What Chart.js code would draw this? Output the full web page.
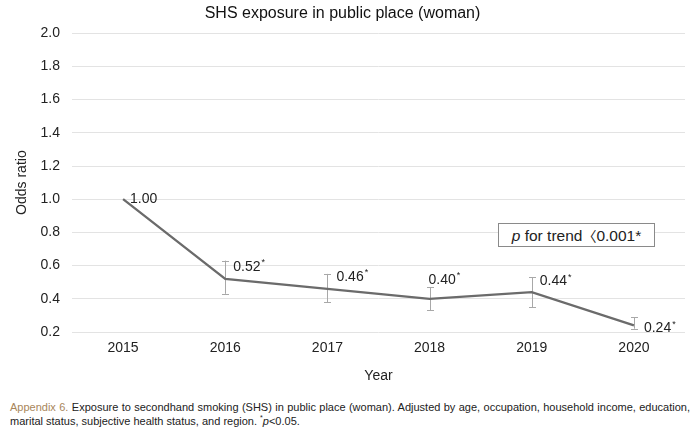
<!DOCTYPE html>
<html>
<head>
<meta charset="utf-8">
<script src="https://cdn.jsdelivr.net/npm/chart.js@4"></script>
<style>
  body { margin: 0; background: #fff; width: 697px; height: 436px; position: relative; overflow: hidden; }
  #wrap { position: absolute; left: 0; top: 0; width: 697px; height: 392px; }
  #trendBox {
    position: absolute; left: 498px; top: 223px; width: 155px; height: 22px;
    border: 1px solid #8a8a8a; background: #fff;
    font: 15.5px "Liberation Sans", Arial, sans-serif; color: #222;
    text-align: center; line-height: 22px; white-space: nowrap;
  }
  .br { font-family: "Noto Sans CJK KR", sans-serif; font-size: 14px; }
  .caption {
    position: absolute; left: 10px; width: 680px;
    font: 11px "Liberation Sans", Arial, sans-serif; color: #222; white-space: nowrap;
  }
  #cap1 { top: 401px; text-align: justify; text-align-last: justify; white-space: normal; }
  #cap2 { top: 414px; }
  .tag { color: #a8865a; }
</style>
</head>
<body>
<div id="wrap"><canvas id="oddsChart"></canvas></div>
<div id="trendBox"><i>p</i> for trend<span class="br">〈</span>0.001*</div>
<div class="caption" id="cap1"><span class="tag">Appendix 6.</span> Exposure to secondhand smoking (SHS) in public place (woman). Adjusted by age, occupation, household income, education,</div>
<div class="caption" id="cap2">marital status, subjective health status, and region. <sup style="font-size:7px">*</sup><i>p</i>&lt;0.05.</div>

<script>
const years = ['2015', '2016', '2017', '2018', '2019', '2020'];
const oddsRatio = [1.00, 0.52, 0.46, 0.40, 0.44, 0.24];
const ciLower = [null, 0.43, 0.38, 0.33, 0.35, 0.22];
const ciUpper = [null, 0.63, 0.55, 0.47, 0.53, 0.29];
const significant = [false, true, true, true, true, true];
const yTicks = [0.2, 0.4, 0.6, 0.8, 1.0, 1.2, 1.4, 1.6, 1.8, 2.0];

// label nudges in px (dx to text start, dy to text middle) relative to each point
const labelShift = [[7, 0], [8, -12], [9, -12], [-1, -19], [8, -11], [10, 3]];

const FONT = '"Liberation Sans", Arial, sans-serif';

const errorBars = {
    id: 'errorBars',
    beforeDatasetsDraw(chart) {
        const { ctx, scales: { x, y } } = chart;
        ctx.save();
        ctx.strokeStyle = '#a8a8a8';
        ctx.lineWidth = 1;
        years.forEach((yr, i) => {
            if (ciLower[i] == null) return;
            const px = Math.round(x.getPixelForValue(i)) + 0.5;
            const top = y.getPixelForValue(ciUpper[i]);
            const bot = y.getPixelForValue(ciLower[i]);
            ctx.beginPath();
            ctx.moveTo(px, top); ctx.lineTo(px, bot);
            ctx.moveTo(px - 3.5, Math.round(top) + 0.5); ctx.lineTo(px + 3.5, Math.round(top) + 0.5);
            ctx.moveTo(px - 3.5, Math.round(bot) + 0.5); ctx.lineTo(px + 3.5, Math.round(bot) + 0.5);
            ctx.stroke();
        });
        ctx.restore();
    }
};

const valueLabels = {
    id: 'valueLabels',
    afterDatasetsDraw(chart) {
        const { ctx } = chart;
        const pts = chart.getDatasetMeta(0).data;
        ctx.save();
        ctx.fillStyle = '#222';
        ctx.textBaseline = 'middle';
        ctx.textAlign = 'left';
        pts.forEach((pt, i) => {
            const txt = oddsRatio[i].toFixed(2);
            const tx = pt.x + labelShift[i][0];
            const ty = pt.y + labelShift[i][1];
            ctx.font = '14px ' + FONT;
            ctx.fillText(txt, tx, ty);
            if (significant[i]) {
                const w = ctx.measureText(txt).width;
                ctx.font = '9px ' + FONT;
                ctx.fillText('*', tx + w + 1, ty - 4);
            }
        });
        ctx.restore();
    }
};

const ctx = document.getElementById('oddsChart').getContext('2d');
const chart = new Chart(ctx, {
    type: 'line',
    data: {
        labels: years,
        datasets: [{
            label: 'Odds ratio',
            data: oddsRatio,
            borderColor: '#6b6b6b',
            borderWidth: 2.3,
            pointRadius: 0,
            tension: 0
        }]
    },
    options: {
        responsive: true,
        maintainAspectRatio: false,
        animation: false,
        layout: { padding: { left: 0, right: 12, top: 0, bottom: 0 } },
        plugins: {
            legend: { display: false },
            tooltip: { enabled: false },
            title: {
                display: true,
                text: 'SHS exposure in public place (woman)',
                color: '#111',
                font: { family: FONT, size: 16, weight: 'normal' },
                padding: { top: 4, bottom: 10 }
            }
        },
        scales: {
            x: {
                offset: true,
                grid: { display: false, drawTicks: false },
                border: { display: false },
                ticks: { color: '#222', font: { family: FONT, size: 14 }, padding: 8 },
                title: { display: true, text: 'Year', color: '#222', font: { family: FONT, size: 14 }, padding: { top: 0, bottom: 7.6 } },
                afterFit(scale) { scale.height = 60; }
            },
            y: {
                min: 0.2,
                max: 2.0,
                afterBuildTicks(scale) { scale.ticks = yTicks.map(v => ({ value: v })); },
                grid: { color: '#e3e3e3', drawTicks: false },
                border: { display: false },
                ticks: {
                    color: '#222',
                    font: { family: FONT, size: 14 },
                    padding: 12,
                    callback: v => v.toFixed(1)
                },
                title: { display: true, text: 'Odds ratio', color: '#222', font: { family: FONT, size: 14 }, padding: { top: 14 } },
                afterFit(scale) { scale.width = 72; }
            }
        }
    },
    plugins: [errorBars, valueLabels]
});
</script>
</body>
</html>
